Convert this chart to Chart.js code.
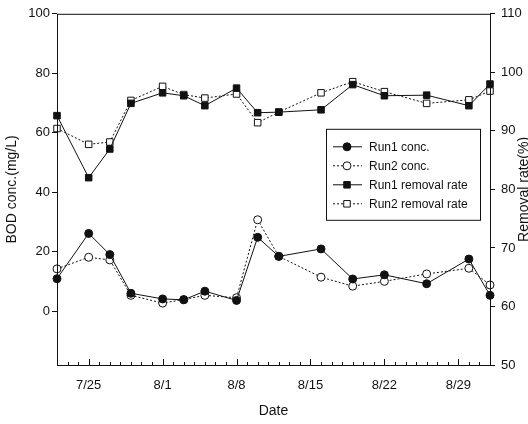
<!DOCTYPE html>
<html>
<head>
<meta charset="utf-8">
<script src="https://cdn.jsdelivr.net/npm/chart.js@4"></script>
<style>
  html, body { margin: 0; padding: 0; background: #fff; }
  #wrap { width: 528px; height: 424px; position: relative; }
</style>
</head>
<body>
<div id="wrap"><canvas id="chart"></canvas></div>
<script>
// sampling dates and values
const dates = ['7/22', '7/25', '7/27', '7/29', '8/1', '8/3', '8/5', '8/8', '8/10', '8/12', '8/16', '8/19', '8/22', '8/26', '8/30', '9/1'];
const run1Conc = [11.0, 26.2, 19.1, 6.1, 4.2, 3.9, 6.8, 3.7, 24.9, 18.5, 21.0, 10.9, 12.3, 9.3, 17.6, 5.4];
const run2Conc = [14.3, 18.2, 17.3, 5.4, 2.8, 4.0, 5.4, 4.6, 30.8, 18.5, 11.5, 8.5, 10.1, 12.6, 14.5, 8.9];
const run1Removal = [92.6, 82.0, 86.9, 94.7, 96.5, 96.0, 94.3, 97.3, 93.1, 93.2, 93.6, 97.9, 96.0, 96.1, 94.3, 98.0];
const run2Removal = [90.4, 87.7, 88.1, 95.2, 97.6, 96.2, 95.6, 96.3, 91.4, 93.2, 96.5, 98.4, 96.7, 94.7, 95.3, 96.8];
const dateTicks = ['7/25', '8/1', '8/8', '8/15', '8/22', '8/29'];
const concTicks = [0, 20, 40, 60, 80, 100];
const removalTicks = [50, 60, 70, 80, 90, 100, 110];

const DAY = 864e5;
const start = Date.UTC(2000, 6, 22);
function dayOf(s) {
  const [m, d] = s.split('/').map(Number);
  return Math.round((Date.UTC(2000, m - 1, d) - start) / DAY);
}
function labelOf(n) {
  const t = new Date(start + n * DAY);
  return (t.getUTCMonth() + 1) + '/' + t.getUTCDate();
}
const pts = arr => arr.map((v, i) => ({ x: dayOf(dates[i]), y: v }));

const FONT = "'Liberation Sans', Arial, sans-serif";
const INK = '#111';

// frame, inward day ticks on the date axis, right-hand title and legend box
const extras = {
  id: 'extras',
  afterDraw(chart) {
    const { ctx, chartArea: a, scales } = chart;
    ctx.save();
    ctx.strokeStyle = INK;
    ctx.lineWidth = 1;
    ctx.strokeRect(a.left + 0.5, a.top + 0.5, a.right - a.left, a.bottom - a.top);

    // day ticks
    const x = scales.x;
    const majors = dateTicks.map(dayOf);
    ctx.beginPath();
    for (let d = x.min; d <= x.max; d++) {
      const px = Math.round(x.getPixelForValue(d)) + 0.5;
      const len = majors.includes(d) ? 6 : 3;
      ctx.moveTo(px, a.bottom);
      ctx.lineTo(px, a.bottom - len);
    }
    ctx.stroke();

    // right axis title
    ctx.fillStyle = INK;
    ctx.font = '14px ' + FONT;
    ctx.textAlign = 'center';
    ctx.textBaseline = 'middle';
    ctx.translate(524, (a.top + a.bottom) / 2);
    ctx.rotate(-Math.PI / 2);
    ctx.fillText('Removal rate(%)', 0, 0);
    ctx.restore();

    // legend
    ctx.save();
    const bx = a.right - 164, by = a.top + 115, bw = 154, bh = 91;
    ctx.fillStyle = '#fff';
    ctx.fillRect(bx, by, bw, bh);
    ctx.strokeStyle = INK;
    ctx.lineWidth = 1;
    ctx.strokeRect(bx + 0.5, by + 0.5, bw, bh);
    ctx.font = '12px ' + FONT;
    ctx.textAlign = 'left';
    ctx.textBaseline = 'middle';
    chart.data.datasets.forEach((ds, i) => {
      const y = by + 18 + i * 19;
      ctx.save();
      ctx.strokeStyle = ds.borderColor;
      ctx.lineWidth = 1;
      ctx.setLineDash(ds.borderDash || []);
      ctx.beginPath();
      ctx.moveTo(bx + 7, y);
      ctx.lineTo(bx + 36, y);
      ctx.stroke();
      ctx.setLineDash([]);
      ctx.fillStyle = ds.pointBackgroundColor;
      ctx.strokeStyle = ds.pointBorderColor;
      Chart.helpers.drawPoint(ctx, { pointStyle: ds.pointStyle, radius: ds.pointRadius, borderWidth: 1, rotation: 0 }, bx + 21, y);
      ctx.restore();
      ctx.fillStyle = INK;
      ctx.fillText(ds.label, bx + 43, y + 1);
    });
    ctx.restore();
  }
};

new Chart(document.getElementById('chart'), {
  type: 'line',
  data: {
    datasets: [
      { label: 'Run1 conc.', data: pts(run1Conc), yAxisID: 'y', borderColor: INK, borderWidth: 1, clip: false,
        pointStyle: 'circle', pointRadius: 4, pointBackgroundColor: INK, pointBorderColor: INK, pointBorderWidth: 1 },
      { label: 'Run2 conc.', data: pts(run2Conc), yAxisID: 'y', borderColor: INK, borderWidth: 1, borderDash: [2, 2], clip: false,
        pointStyle: 'circle', pointRadius: 4, pointBackgroundColor: '#fff', pointBorderColor: INK, pointBorderWidth: 1 },
      { label: 'Run1 removal rate', data: pts(run1Removal), yAxisID: 'y2', borderColor: INK, borderWidth: 1, clip: false,
        pointStyle: 'rect', pointRadius: 4.6, pointBackgroundColor: INK, pointBorderColor: INK, pointBorderWidth: 1 },
      { label: 'Run2 removal rate', data: pts(run2Removal), yAxisID: 'y2', borderColor: INK, borderWidth: 1, borderDash: [2, 2], clip: false,
        pointStyle: 'rect', pointRadius: 4.6, pointBackgroundColor: '#fff', pointBorderColor: INK, pointBorderWidth: 1 }
    ]
  },
  options: {
    responsive: true,
    maintainAspectRatio: false,
    animation: false,
    layout: { padding: { top: 13, right: 0, left: 0, bottom: 0 } },
    plugins: { legend: { display: false }, tooltip: { enabled: false } },
    scales: {
      x: {
        type: 'linear', min: 0, max: dayOf('9/1'),
        afterBuildTicks: s => { s.ticks = dateTicks.map(t => ({ value: dayOf(t) })); },
        afterFit: s => { s.height = 59; },
        ticks: { callback: v => labelOf(v), color: INK, font: { family: FONT, size: 13 }, padding: 13, maxRotation: 0, autoSkip: false },
        grid: { drawOnChartArea: false, drawTicks: false },
        border: { display: false },
        title: { display: true, text: 'Date', color: INK, font: { family: FONT, size: 14 }, padding: { top: 8 } }
      },
      y: {
        position: 'left', min: -18, max: 100,
        afterBuildTicks: s => { s.ticks = concTicks.map(v => ({ value: v })); },
        afterFit: s => { s.width = 57; },
        ticks: { color: INK, font: { family: FONT, size: 13 }, padding: 2 },
        grid: { drawOnChartArea: false, tickLength: 5, tickColor: INK },
        border: { display: false },
        title: { display: true, text: 'BOD conc.(mg/L)', color: INK, font: { family: FONT, size: 14 }, padding: { top: 4, bottom: 0 } }
      },
      y2: {
        position: 'right', min: 50, max: 110,
        afterBuildTicks: s => { s.ticks = removalTicks.map(v => ({ value: v })); },
        afterFit: s => { s.width = 38; },
        ticks: { color: INK, font: { family: FONT, size: 13 }, padding: 6 },
        grid: { drawOnChartArea: false, tickLength: 5, tickColor: INK },
        border: { display: false }
      }
    }
  },
  plugins: [extras]
});
</script>
</body>
</html>
